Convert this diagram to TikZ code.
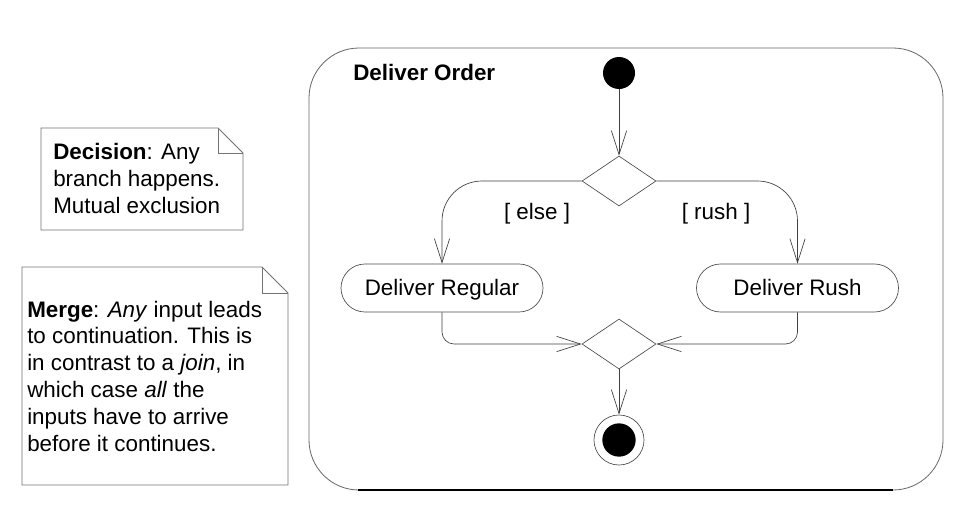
\documentclass[tikz,border=0pt]{standalone}
\usepackage{fontspec}
\setmainfont{Liberation Sans}
\usetikzlibrary{shapes.geometric,arrows.meta}
\begin{document}
\begin{tikzpicture}[x=0.75pt,y=-0.75pt,
  txt/.style={font=\fontsize{16.8pt}{20.1pt}\selectfont},
  flow/.style={draw=black!75,line width=0.5pt,-{Straight Barb[length=18pt,width=11.5pt,line width=0.5pt]}},
  activity/.style={draw=black!70,line width=0.5pt,rounded corners=18pt,minimum width=151.5pt,minimum height=36pt,inner sep=0pt,txt,text height=12pt,text depth=0.5pt},
  choice/.style={draw=black!70,line width=0.5pt,diamond,minimum width=55.5pt,minimum height=37.5pt,inner sep=0pt},
  notebox/.style={draw=black!55,line width=0.6pt},
  guard/.style={txt,inner sep=0pt}]
\useasboundingbox[fill=white] (0,0) rectangle (969,518);

% frame
\draw[black!60,line width=0.6pt,rounded corners=37.5pt] (358,490) -| (309,48) -| (943,490) -- (358,490);
\draw[black,line width=1.6pt] (358,490) -- (893,490);
\node[font=\fontsize{16.8pt}{20pt}\selectfont\bfseries,anchor=base west,inner sep=0pt] (title) at (353,80) {Deliver Order};

% nodes
\node[circle,fill=black,minimum size=24pt,inner sep=0pt] (start) at (619,73) {};
\node[choice] (dec) at (619,181) {};
\node[activity] (reg) at (442,288) {Deliver Regular};
\node[activity] (rush) at (797.5,288) {Deliver Rush};
\node[choice] (mer) at (619,344) {};
\node[circle,draw=black!70,line width=0.5pt,minimum size=37.5pt,inner sep=0pt] (end) at (619,440) {};
\node[circle,fill=black,minimum size=25pt,inner sep=0pt] (endin) at (end.center) {};

% connectors
\draw[flow] (start) -- (dec.north);
\draw[flow,rounded corners=30pt] (dec.west) -| (reg.north);
\draw[flow,rounded corners=30pt] (dec.east) -| (rush.north);
\draw[flow,rounded corners=9pt] (reg.south) |- (mer.west);
\draw[flow,rounded corners=9pt] (rush.south) |- (mer.east);
\draw[flow] (mer.south) -- (end.north);

\node[guard] (lelse) at (537,214) {[ else ]};
\node[guard] (lrush) at (716,214) {[ rush ]};

% decision note
\draw[notebox] (41,128) -- (218,128) -- (243,153) -- (243,230) -- (41,230) -- cycle;
\draw[notebox] (218,128) -- (218,153) -- (243,153);
\node[txt,anchor=base west,align=left,inner sep=0pt] (dnote) at (53,213)
  {\textbf{Decision}: Any\\branch happens.\\Mutual exclusion};

% merge note
\draw[notebox] (22,267) -- (262,267) -- (288,293) -- (288,485) -- (22,485) -- cycle;
\draw[notebox] (262,267) -- (262,293) -- (288,293);
\node[txt,anchor=base west,align=left,inner sep=0pt] (mnote) at (27,451)
  {\textbf{Merge}: \textit{Any} input leads\\to continuation. This is\\in contrast to a \textit{join}, in\\which case \textit{all} the\\inputs have to arrive\\before it continues.};
\end{tikzpicture}
\end{document}
